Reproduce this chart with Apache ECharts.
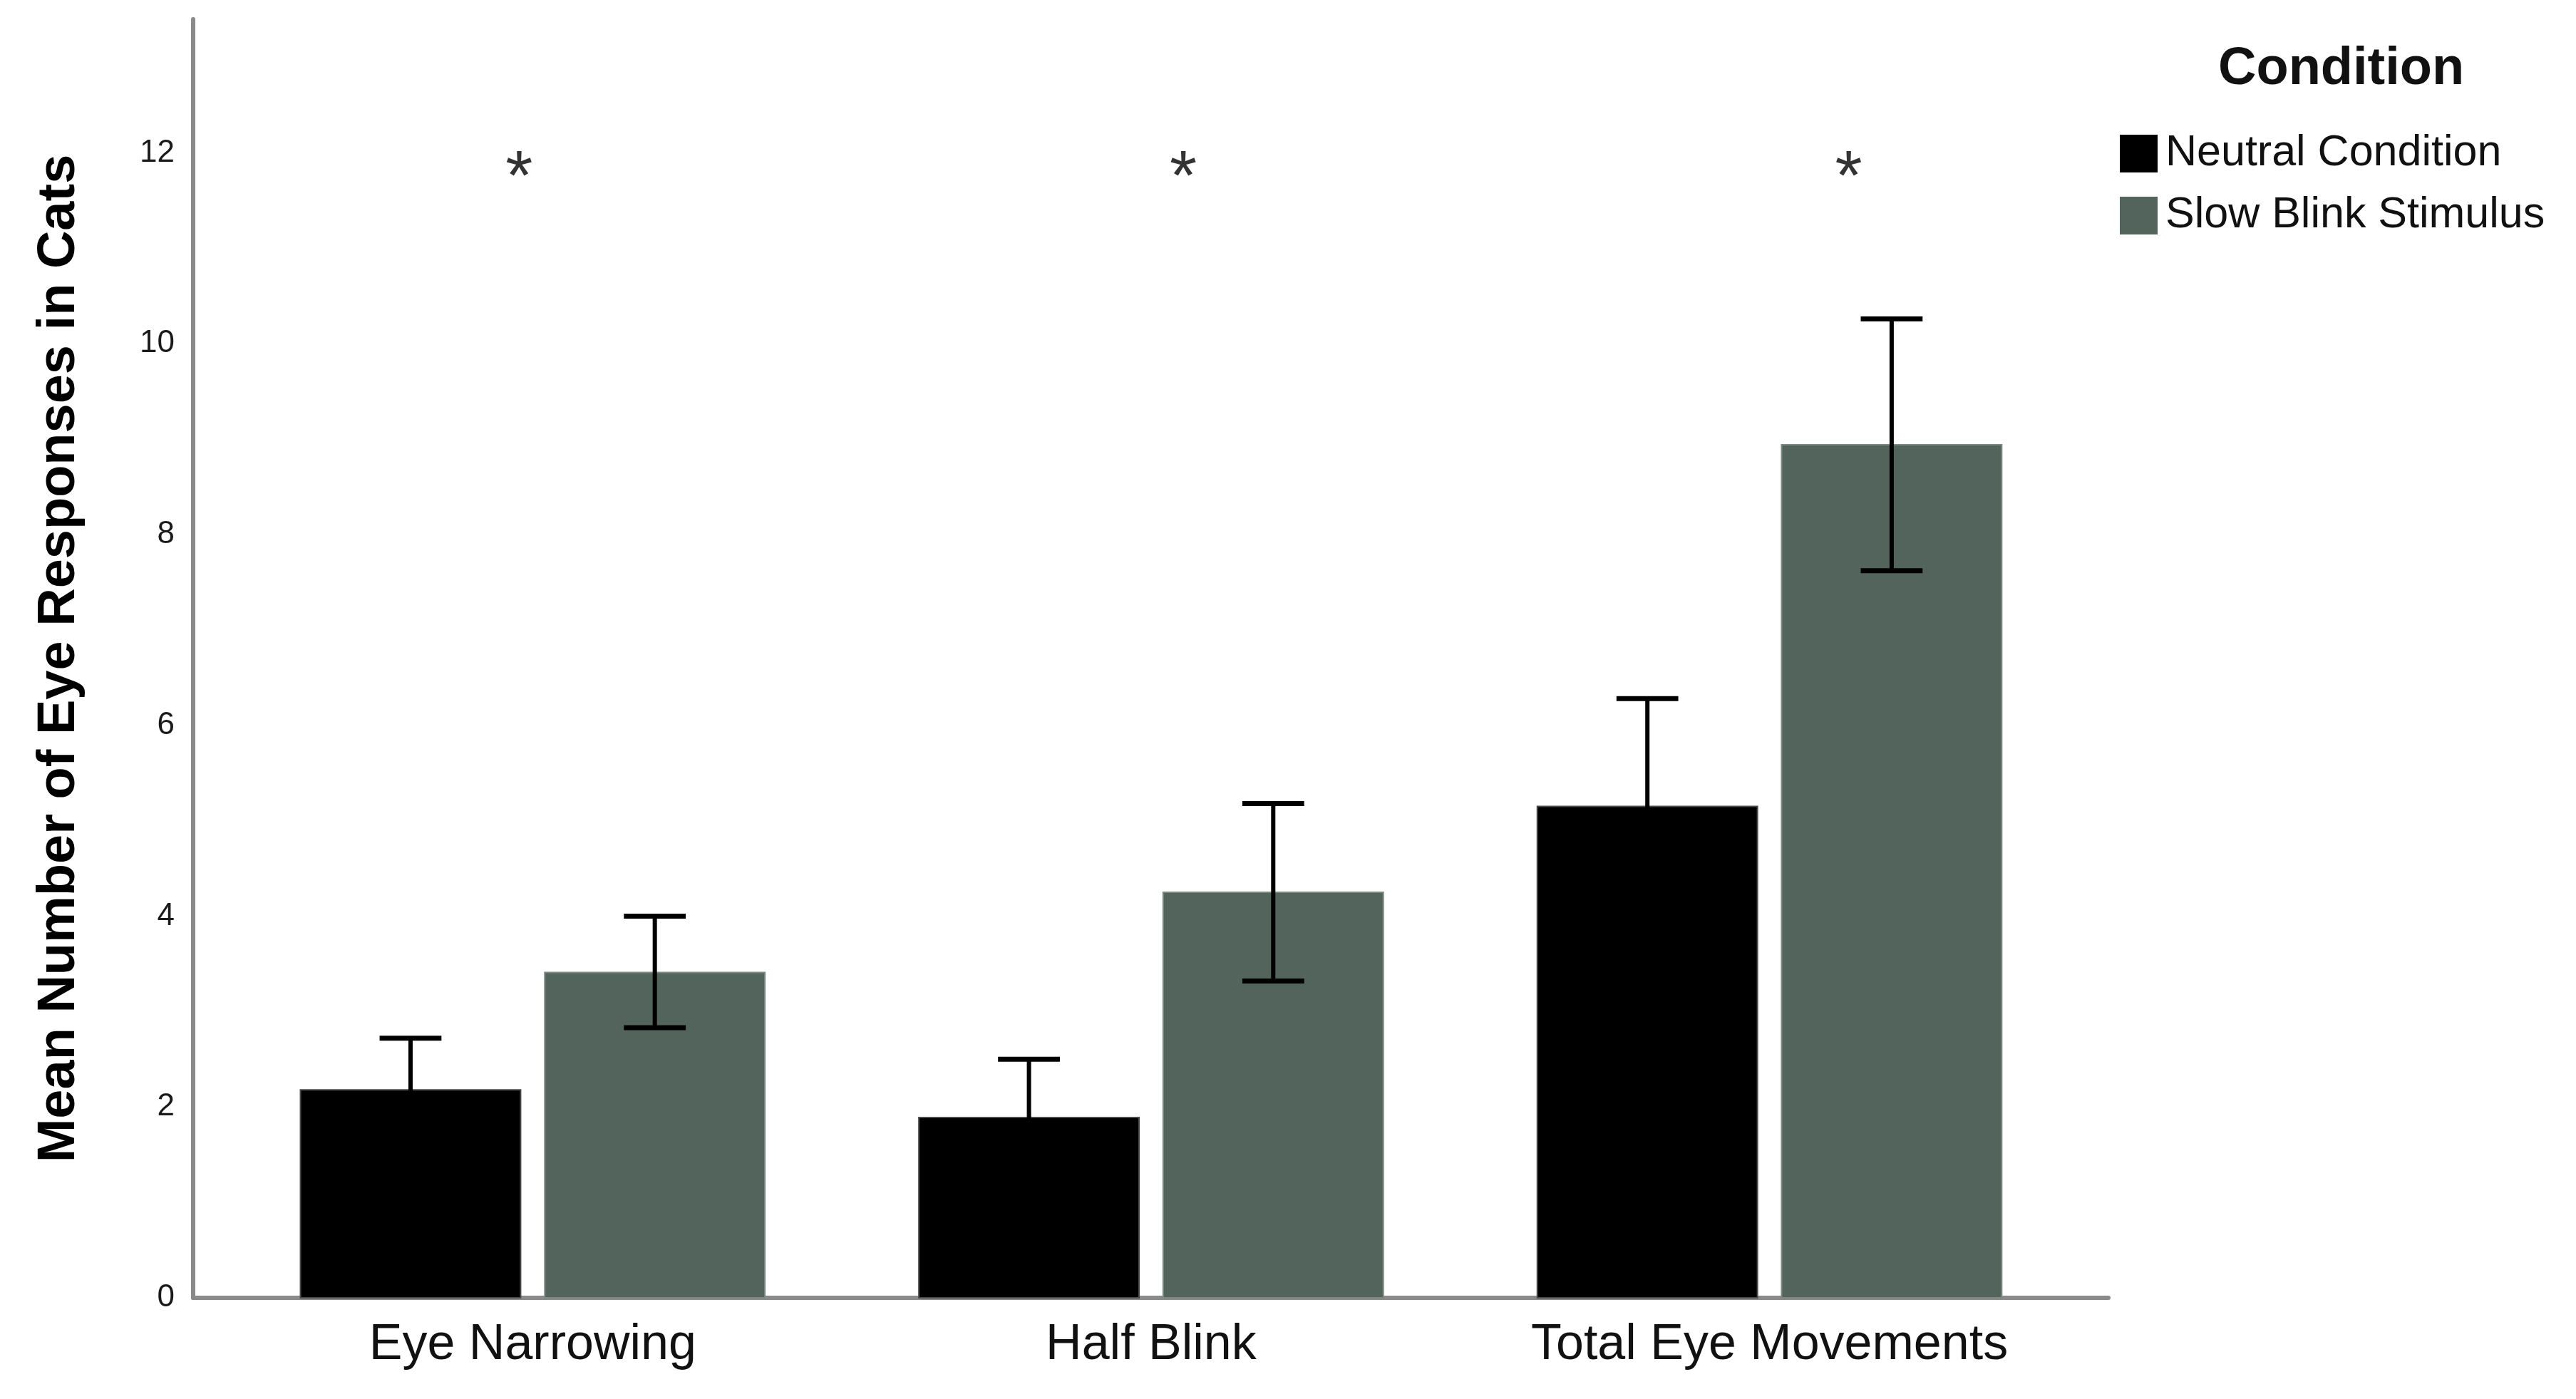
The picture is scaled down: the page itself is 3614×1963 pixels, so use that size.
<!DOCTYPE html>
<html>
<head>
<meta charset="utf-8">
<script src="https://cdn.jsdelivr.net/npm/echarts@6/dist/echarts.min.js"></script>
<style>
html,body{margin:0;padding:0;background:#fff;}
#chart{width:3614px;height:1963px;}
</style>
</head>
<body>
<div id="chart"></div>
<script>
// ---- data ----
const categories = ['Eye Narrowing', 'Half Blink', 'Total Eye Movements'];
const seriesNames = ['Neutral Condition', 'Slow Blink Stimulus'];
const neutralMean = [2.18, 1.89, 5.15];
const neutralLow  = [1.64, 1.28, 4.02];
const neutralHigh = [2.72, 2.50, 6.28];
const slowMean = [3.41, 4.25, 8.94];
const slowLow  = [2.83, 3.32, 7.62];
const slowHigh = [4.00, 5.18, 10.26];
const sigMarks = ['*', '*', '*'];
const sigX = [-0.022, 1.052, 2.128];
const sigY = [11.71, 11.71, 11.71];
const yTicks = [0, 2, 4, 6, 8, 10, 12];

const FONT = "'Liberation Sans', Arial, sans-serif";
const colors = ['#000000', '#53645c'];
const strokes = ['#4a4a4a', '#7d8a84'];

function makeRender(side) {
  return function (params, api) {
    const x = api.value(0);
    const mean = api.value(1);
    const lo = api.value(2);
    const hi = api.value(3);
    const unit = api.size([1, 0])[0];
    const w = unit * 0.356;
    const gap = unit * 0.039;
    const c = api.coord([x, 0]);
    const top = api.coord([x, mean]);
    const left = side === 0 ? c[0] - gap / 2 - w : c[0] + gap / 2;
    const cx = left + w / 2;
    const pHi = api.coord([x, hi]);
    const pLo = api.coord([x, lo]);
    const cap = unit * 0.05;
    return {
      type: 'group',
      children: [
        { type: 'rect', shape: { x: left, y: top[1], width: w, height: c[1] - top[1] },
          style: { fill: colors[side], stroke: strokes[side], lineWidth: 2 } },
        { type: 'line', shape: { x1: cx, y1: pHi[1], x2: cx, y2: pLo[1] },
          style: { stroke: '#000', lineWidth: 6 } },
        { type: 'line', shape: { x1: cx - cap, y1: pHi[1], x2: cx + cap, y2: pHi[1] },
          style: { stroke: '#000', lineWidth: 7 } },
        { type: 'line', shape: { x1: cx - cap, y1: pLo[1], x2: cx + cap, y2: pLo[1] },
          style: { stroke: '#000', lineWidth: 7 } }
      ]
    };
  };
}

const neutralData = categories.map((c, i) => [i, neutralMean[i], neutralLow[i], neutralHigh[i]]);
const slowData = categories.map((c, i) => [i, slowMean[i], slowLow[i], slowHigh[i]]);
const sigData = sigX.map((x, i) => [x, sigY[i], sigMarks[i]]);

const chart = echarts.init(document.getElementById('chart'), null, { renderer: 'canvas' });
chart.setOption({
  animation: false,
  backgroundColor: '#ffffff',
  title: {
    text: 'Condition',
    left: 3107, top: 56,
    textStyle: { fontFamily: FONT, fontSize: 74, fontWeight: 'bold', color: '#111' }
  },
  legend: {
    data: seriesNames,
    orient: 'vertical',
    left: 2969, top: 180,
    icon: 'rect',
    itemWidth: 53, itemHeight: 53, itemGap: 26,
    textStyle: { fontFamily: FONT, fontSize: 61, color: '#111', padding: [0, 0, 0, 6] }
  },
  grid: { left: 271, right: 656, top: 27, bottom: 142, containLabel: false },
  xAxis: {
    type: 'value',
    min: -0.549, max: 2.548,
    axisLine: { show: true, onZero: false, lineStyle: { color: '#8a8a8a', width: 6 } },
    axisTick: { show: false },
    splitLine: { show: false },
    axisLabel: {
      customValues: [0, 1, 2],
      formatter: v => categories[Math.round(v)],
      fontFamily: FONT, fontSize: 70, color: '#111', margin: 32
    }
  },
  yAxis: {
    type: 'value',
    min: 0, max: 13.4, interval: 2,
    name: 'Mean Number of Eye Responses in Cats',
    nameLocation: 'middle', nameRotate: 90, nameGap: 150,
    nameTextStyle: { fontFamily: FONT, fontSize: 74, fontWeight: 'bold', color: '#000' },
    axisLine: { show: true, onZero: false, lineStyle: { color: '#8a8a8a', width: 6 } },
    axisTick: { show: false },
    splitLine: { show: false },
    axisLabel: {
      showMaxLabel: false,
      formatter: v => (yTicks.indexOf(v) >= 0 ? String(v) : ''),
      fontFamily: FONT, fontSize: 44, color: '#1a1a1a', margin: 26
    }
  },
  series: [
    { name: seriesNames[0], type: 'custom', renderItem: makeRender(0), data: neutralData,
      itemStyle: { color: colors[0] }, encode: { x: 0, y: [1, 2, 3] }, z: 2 },
    { name: seriesNames[1], type: 'custom', renderItem: makeRender(1), data: slowData,
      itemStyle: { color: colors[1] }, encode: { x: 0, y: [1, 2, 3] }, z: 2 },
    { name: 'sig', type: 'scatter', data: sigData, symbolSize: 1,
      itemStyle: { color: 'rgba(0,0,0,0)' }, silent: true, z: 5,
      label: { show: true, position: 'inside', formatter: p => p.data[2],
        fontFamily: FONT, fontSize: 98, color: '#000' } }
  ]
});
</script>
</body>
</html>
